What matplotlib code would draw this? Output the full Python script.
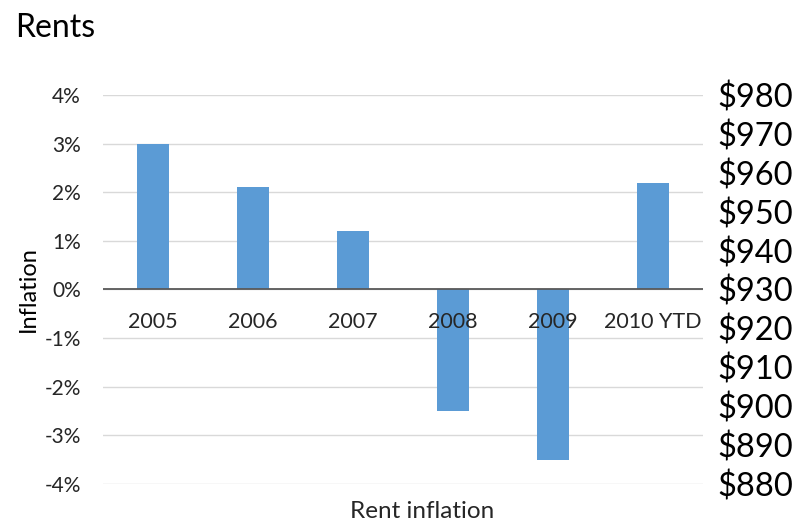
import numpy as np
import matplotlib.pyplot as plt
from matplotlib.ticker import FuncFormatter

plt.rcParams['font.family'] = ['Lato', 'DejaVu Sans']

# data
years = ["2005", "2006", "2007", "2008", "2009", "2010 YTD"]
rent_inflation = [3.0, 2.1, 1.2, -2.5, -3.5, 2.2]
left_ticks = [-4, -3, -2, -1, 0, 1, 2, 3, 4]
right_ticks = [880, 890, 900, 910, 920, 930, 940, 950, 960, 970, 980]

BAR_COLOR = "#5B9BD5"
TEXT = "#262626"

fig = plt.figure(figsize=(8, 5.23), dpi=100)
ax = fig.add_axes([0.129, 0.0746, 0.75, 0.7438])

x = np.arange(len(years))
ax.bar(x, rent_inflation, width=0.32, color=BAR_COLOR, zorder=3)

ax.set_xlim(-0.5, len(years) - 0.5)
ax.set_ylim(-4, 4)
ax.set_yticks(left_ticks)
ax.yaxis.set_major_formatter(FuncFormatter(lambda v, p: f"{v:.0f}%"))
ax.tick_params(axis="y", length=0, pad=16, labelsize=15, labelcolor=TEXT)
ax.set_xticks([])
ax.grid(axis="y", color="#d9d9d9", linewidth=1, zorder=0)
ax.axhline(0, color="#595959", linewidth=1.3, zorder=4)
for s in ax.spines.values():
    s.set_visible(False)

# category labels sit just under the zero line
for xi, lab in zip(x, years):
    ax.text(xi, -0.66, lab, ha="center", va="center", fontsize=15.5,
            color=TEXT, zorder=5)

ax.set_ylabel("Inflation", fontsize=17, color="black")
ax.yaxis.set_label_coords(-0.107, 0.5)

# secondary dollar axis
ax2 = ax.twinx()
ax2.set_ylim(880, 980)
ax2.set_yticks(right_ticks)
ax2.yaxis.set_major_formatter(FuncFormatter(lambda v, p: f"${v:.0f}"))
ax2.tick_params(axis="y", length=0, pad=10, labelsize=23.5, labelcolor="black")
for s in ax2.spines.values():
    s.set_visible(False)

fig.text(422 / 800, 1 - 511 / 523, "Rent inflation", ha="center", va="center",
         fontsize=17.5, color=TEXT)
fig.text(15 / 800, 1 - 28 / 523, "Rents", ha="left", va="center",
         fontsize=23, color="black")

fig.savefig("out.png", dpi=100)
